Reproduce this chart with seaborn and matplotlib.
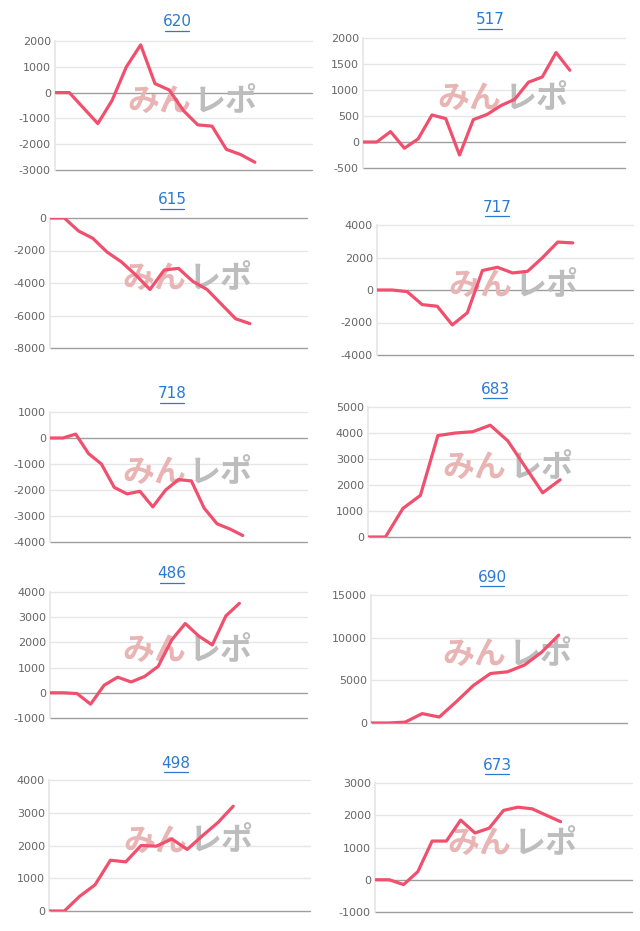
import matplotlib
matplotlib.use("Agg")
import matplotlib.pyplot as plt
from matplotlib.lines import Line2D
import seaborn as sns

sns.set_theme(style="white")
plt.rcParams['font.family'] = ['DejaVu Sans', 'Noto Sans CJK JP']
plt.rcParams['axes.unicode_minus'] = False

titles = ["620", "517", "615", "717", "718", "683", "486", "690", "498", "673"]
v620 = [0, 0, -600, -1200, -300, 1000, 1850, 350, 100, -700, -1250, -1300, -2200, -2400, -2700]
v517 = [0, 0, 200, -120, 60, 520, 450, -250, 430, 530, 700, 820, 1150, 1250, 1720, 1380]
v615 = [0, 0, -800, -1250, -2100, -2700, -3500, -4400, -3200, -3100, -3900, -4400, -5300, -6200, -6500]
v717 = [0, 0, -100, -900, -1000, -2150, -1400, 1200, 1400, 1050, 1150, 2000, 2950, 2900]
v718 = [0, 0, 150, -600, -1000, -1900, -2150, -2050, -2650, -2000, -1600, -1650, -2700, -3300, -3500, -3750]
v683 = [0, 0, 1100, 1600, 3900, 4000, 4050, 4300, 3700, 2700, 1700, 2200]
v486 = [0, 0, -30, -450, 300, 620, 430, 650, 1050, 2100, 2750, 2250, 1900, 3050, 3550]
v690 = [0, 0, 100, 1100, 700, 2500, 4400, 5800, 6000, 6800, 8300, 10300]
v498 = [0, 0, 450, 800, 1550, 1500, 2000, 1980, 2200, 1880, 2300, 2700, 3200]
v673 = [0, 0, -150, 250, 1200, 1200, 1850, 1450, 1600, 2150, 2250, 2200, 2000, 1800]
series = [v620, v517, v615, v717, v718, v683, v486, v690, v498, v673]
xslots = [18, 19, 18, 17, 20, 15, 19, 15, 17, 18]
yticks = [
    list(range(-3000, 2001, 1000)), list(range(-500, 2001, 500)),
    list(range(-8000, 1, 2000)), list(range(-4000, 4001, 2000)),
    list(range(-4000, 1001, 1000)), list(range(0, 5001, 1000)),
    list(range(-1000, 4001, 1000)), list(range(0, 15001, 5000)),
    list(range(0, 4001, 1000)), list(range(-1000, 3001, 1000)),
]
boxes = [
    (55, 312, 41, 170), (363, 625, 38, 168),
    (50, 307, 218, 348), (377, 633, 225, 355),
    (50, 307, 412, 542), (368, 630, 407, 537),
    (50, 307, 592, 718), (371, 627, 595, 723),
    (49, 310, 780, 911), (375, 632, 783, 912),
]
tpos = [(177, 22), (490, 20), (172, 200), (497, 207), (172, 394), (495, 389),
        (172, 574), (492, 577), (176, 763), (497, 765)]
W, H = 640, 931
fig = plt.figure(figsize=(6.4, 9.31), dpi=100)
fig.patch.set_facecolor("white")
for t, vals, ns, yt, (l, r, tp, bt), (tx, ty) in zip(titles, series, xslots, yticks, boxes, tpos):
    ax = fig.add_axes([l / W, 1 - bt / H, (r - l) / W, (bt - tp) / H])
    ax.set_facecolor("white")
    ax.set_ylim(yt[0], yt[-1])
    ax.set_xlim(0, ns)
    ax.set_yticks(yt)
    ax.set_xticks([])
    for y in yt:
        if y == 0 or y == yt[0]:
            c = "#9e9e9e"
        else:
            c = "#e6e6e6"
        ax.axhline(y, color=c, lw=1.0, zorder=1, clip_on=False)
    for s in ["top", "right", "bottom"]:
        ax.spines[s].set_visible(False)
    ax.spines["left"].set_color("#e6e6e6")
    ax.tick_params(axis="y", labelsize=8, colors="#666666", length=0, pad=3)
    ax.text(0.53, 0.53, "みん", transform=ax.transAxes, ha="right", va="center",
            fontsize=23, fontweight="bold", color="#e8b4b4",
            family=["Noto Sans CJK JP"], zorder=2)
    ax.text(0.54, 0.53, "レポ", transform=ax.transAxes, ha="left", va="center",
            fontsize=23, fontweight="bold", color="#bdbdbd",
            family=["Noto Sans CJK JP"], zorder=2)
    sns.lineplot(x=list(range(len(vals))), y=vals, ax=ax, color="#f0506e", lw=2.3, zorder=3)
    ax.set_ylabel("")
    fig.text(tx / W, 1 - ty / H, t, ha="center", va="center", fontsize=11, color="#2a7ad2")
    uy = 1 - (ty + 9) / H
    fig.add_artist(Line2D([(tx - 12) / W, (tx + 12) / W], [uy, uy], color="#2a7ad2", lw=0.9))
fig.savefig("out.png", dpi=100, facecolor="white")
